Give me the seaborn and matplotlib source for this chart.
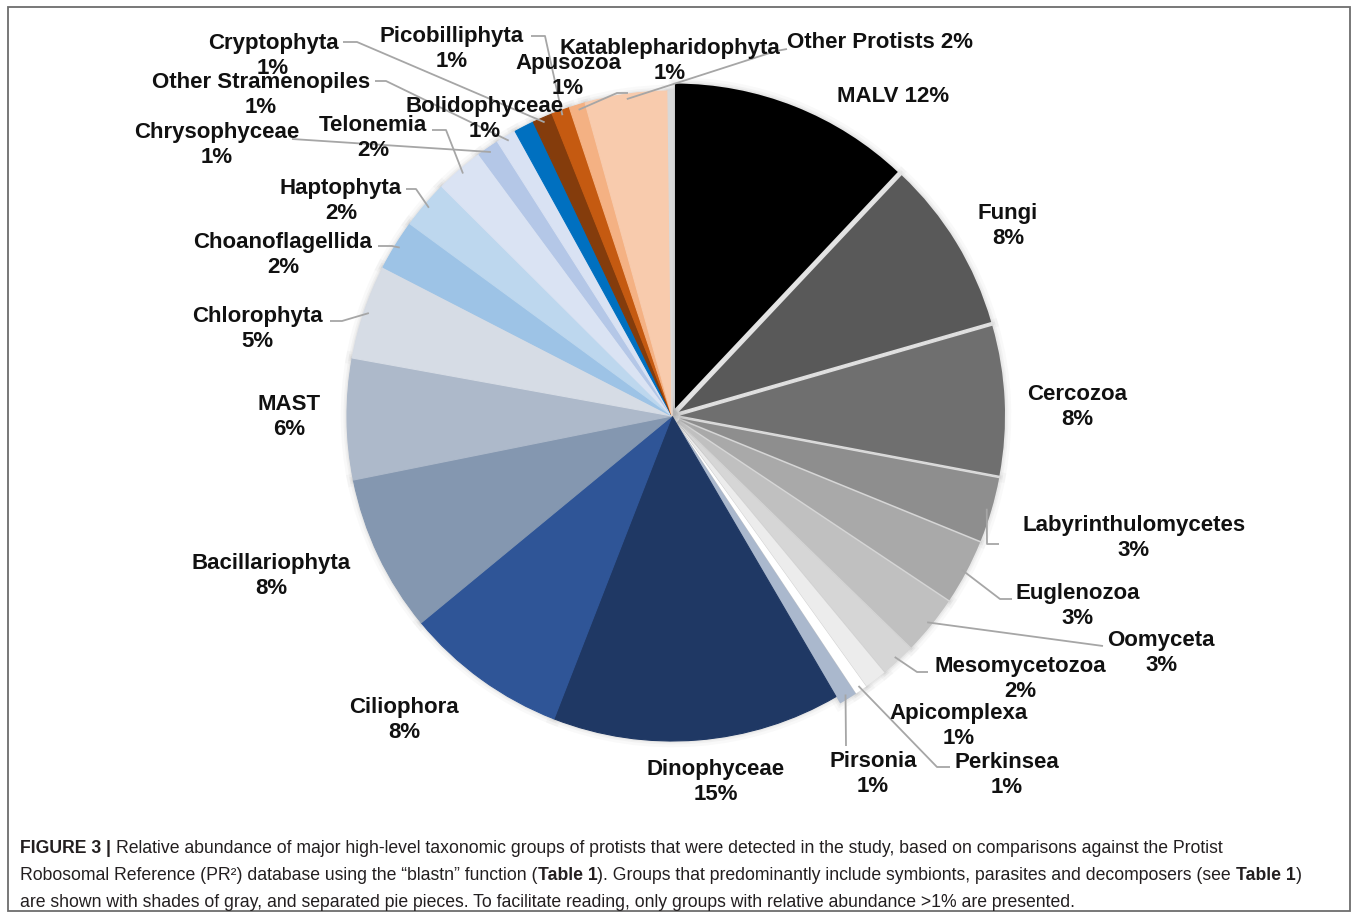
import matplotlib
matplotlib.use("Agg")
import matplotlib.pyplot as plt
import seaborn as sns
from matplotlib import font_manager
from matplotlib.patches import Rectangle
import numpy as np

# ---------------- data ----------------
groups = ["MALV", "Fungi", "Cercozoa", "Labyrinthulomycetes", "Euglenozoa",
          "Oomyceta", "Mesomycetozoa", "Apicomplexa", "Perkinsea", "Pirsonia",
          "Dinophyceae", "Ciliophora", "Bacillariophyta", "MAST", "Chlorophyta",
          "Choanoflagellida", "Haptophyta", "Telonemia", "Chrysophyceae",
          "Other Stramenopiles", "Bolidophyceae", "Cryptophyta", "Picobilliphyta",
          "Apusozoa", "Katablepharidophyta", "Other Protists"]
values = [12.0, 8.5, 7.4, 3.2, 3.2, 2.9, 1.7, 1.1, 0.6, 0.9,
          14.3, 8.1, 7.8, 6.0, 4.7, 2.5, 2.4, 2.4, 1.1,
          1.0, 1.0, 1.0, 0.9, 0.8, 4.1, 0.2]
pct_labels = ["12%", "8%", "8%", "3%", "3%", "3%", "2%", "1%", "1%", "1%",
              "15%", "8%", "8%", "6%", "5%", "2%", "2%", "2%", "1%",
              "1%", "1%", "1%", "1%", "1%", "1%", "2%"]
# symbionts / parasites / decomposers -> separated pieces
separated = [True, True, True, True, True, True, True, True, True, True,
             False, False, False, False, False, False, False, False, False,
             False, False, False, False, False, False, False]

# ---------------- style ----------------
colors = ["#000000", "#595959", "#6f6f6f", "#8e8e8e", "#a9a9a9", "#c0c0c0",
          "#d6d6d6", "#ececec", "#ffffff", "#aab8cd",
          "#1f3864", "#2f5597", "#8497b0", "#adb9ca", "#d6dce5", "#9dc3e6",
          "#bdd7ee", "#dae3f3", "#b4c7e7", "#d9e2f3", "#0070c0", "#843c0c",
          "#c55a11", "#f4b183", "#f8cbad", "#d9d9d9"]

sns.set_theme(style="white")
plt.rcParams['font.family'] = ['Liberation Sans', 'DejaVu Sans']

W, H = 1358, 920
fig = plt.figure(figsize=(W / 100, H / 100), dpi=100)
ax = fig.add_axes([0, 0, 1, 1])


def P(x, y):
    return (x, H - y)


cx, cy, R = 672, 417, 325
explode = [8 if s else 0 for s in separated]

# soft shadow passes
for lw, a in [(9, 0.07), (5, 0.10), (2.5, 0.14)]:
    sh, _ = ax.pie(values, colors=["#b0b0b0"] * len(values), startangle=90,
                   counterclock=False, radius=R, center=P(cx, cy),
                   explode=explode,
                   wedgeprops=dict(linewidth=lw, edgecolor="#b0b0b0", alpha=a))

wedges, _ = ax.pie(values, colors=colors, startangle=90, counterclock=False,
                   radius=R, center=P(cx, cy), explode=explode,
                   wedgeprops=dict(linewidth=0))
for w, s in zip(wedges, separated):
    if not s:
        w.set_edgecolor(w.get_facecolor())
        w.set_linewidth(0.8)

ax.set_xlim(0, W)
ax.set_ylim(0, H)
ax.set_aspect('auto')
ax.axis('off')

# ---------------- labels (layout) ----------------
label_pos = {
    "MALV": (893, 96), "Fungi": (1008, 226), "Cercozoa": (1077, 407),
    "Labyrinthulomycetes": (1134, 538), "Euglenozoa": (1078, 606),
    "Oomyceta": (1161, 653), "Mesomycetozoa": (1020, 679),
    "Apicomplexa": (959, 726), "Perkinsea": (1007, 775), "Pirsonia": (873, 774),
    "Dinophyceae": (716, 782), "Ciliophora": (404, 720),
    "Bacillariophyta": (271, 576), "MAST": (289, 417), "Chlorophyta": (257, 329),
    "Choanoflagellida": (283, 255), "Haptophyta": (341, 201),
    "Telonemia": (373, 138), "Chrysophyceae": (217, 145),
    "Other Stramenopiles": (261, 95), "Bolidophyceae": (485, 119),
    "Cryptophyta": (273, 56), "Picobilliphyta": (452, 49),
    "Apusozoa": (568, 76), "Katablepharidophyta": (670, 61),
    "Other Protists": (880, 42),
}
single_line = {"MALV", "Other Protists"}

leaders = {
    "Cryptophyta": [(357, 43), (343, 43)],
    "Other Stramenopiles": [(386, 82), (375, 82)],
    "Chrysophyceae": [(292, 140)],
    "Telonemia": [(446, 131), (432, 131)],
    "Haptophyta": [(416, 190), (406, 190)],
    "Choanoflagellida": [(392, 247), (378, 247)],
    "Chlorophyta": [(342, 322), (330, 322)],
    "Picobilliphyta": [(545, 37), (531, 37)],
    "Apusozoa": [(617, 94), (628, 94)],
    "Katablepharidophyta": [(776, 52), (787, 50)],
    "Labyrinthulomycetes": [(987, 545), (999, 545)],
    "Euglenozoa": [(1000, 600), (1012, 600)],
    "Oomyceta": [(1103, 647)],
    "Mesomycetozoa": [(917, 673), (928, 673)],
    "Perkinsea": [(937, 768), (950, 768)],
    "Pirsonia": [(846, 747)],
}

for w, name, pct in zip(wedges, groups, pct_labels):
    x, y = label_pos[name]
    txt = f"{name} {pct}" if name in single_line else f"{name}\n{pct}"
    ax.text(*P(x, y), txt, ha='center', va='center', fontsize=16,
            fontweight='bold', color='#111111', linespacing=1.2,
            family=['Liberation Sans', 'DejaVu Sans'])
    if name in leaders:
        th = np.deg2rad(0.5 * (w.theta1 + w.theta2))
        sx = w.center[0] + 0.985 * w.r * np.cos(th)
        sy = w.center[1] + 0.985 * w.r * np.sin(th)
        pts = [(sx, sy)] + [P(px, py) for px, py in leaders[name]]
        xs, ys = zip(*pts)
        ax.plot(xs, ys, color='#a6a6a6', lw=1.3, solid_capstyle='butt')

# ---------------- caption ----------------
ax.add_patch(Rectangle(P(8, 912), 1342, 904, fill=False, edgecolor='#6d6d6d',
                       lw=1.3))

avail = {f.name for f in font_manager.fontManager.ttflist}
cap_family = 'Liberation Sans Narrow' if 'Liberation Sans Narrow' in avail else 'Liberation Sans'

renderer = fig.canvas.get_renderer()


def text_width(s, size, weight):
    t = ax.text(0, 0, s, fontsize=size, fontweight=weight, family=cap_family)
    wdt = t.get_window_extent(renderer).width
    t.remove()
    return wdt


def adv(s, size, weight):
    return text_width('X' + s + 'X', size, weight) - text_width('XX', size, weight)


caption_lines = [
    [("FIGURE 3 |", 'bold', False),
     ("Relative abundance of major high-level taxonomic groups of protists that were detected in the study, based on comparisons against the Protist", 'normal', True)],
    [("Robosomal Reference (PR²) database using the “blastn” function (", 'normal', False),
     ("Table 1", 'bold', False),
     ("). Groups that predominantly include symbionts, parasites and decomposers (see", 'normal', False),
     ("Table 1", 'bold', True),
     (")", 'normal', False)],
    [("are shown with shades of gray, and separated pie pieces. To facilitate reading, only groups with relative abundance >1% are presented.", 'normal', False)],
]
line_targets = [1298, 1320, 1056]


def line_width(segs, size):
    total = 0
    for s, wgt, sp in segs:
        if sp:
            total += adv(' ', size, 'normal')
        total += adv(s, size, wgt)
    return total


base = 12.0
cap_size = min(base * tgt / line_width(segs, base)
               for segs, tgt in zip(caption_lines, line_targets))

baselines = [853, 880, 907]
for segs, yb in zip(caption_lines, baselines):
    x = 20
    for s, wgt, sp in segs:
        if sp:
            x += adv(' ', cap_size, 'normal')
        ax.text(*P(x, yb), s, fontsize=cap_size, fontweight=wgt,
                family=cap_family, ha='left', va='baseline', color='#231f20')
        x += adv(s, cap_size, wgt)

fig.savefig("out.png", dpi=100)
